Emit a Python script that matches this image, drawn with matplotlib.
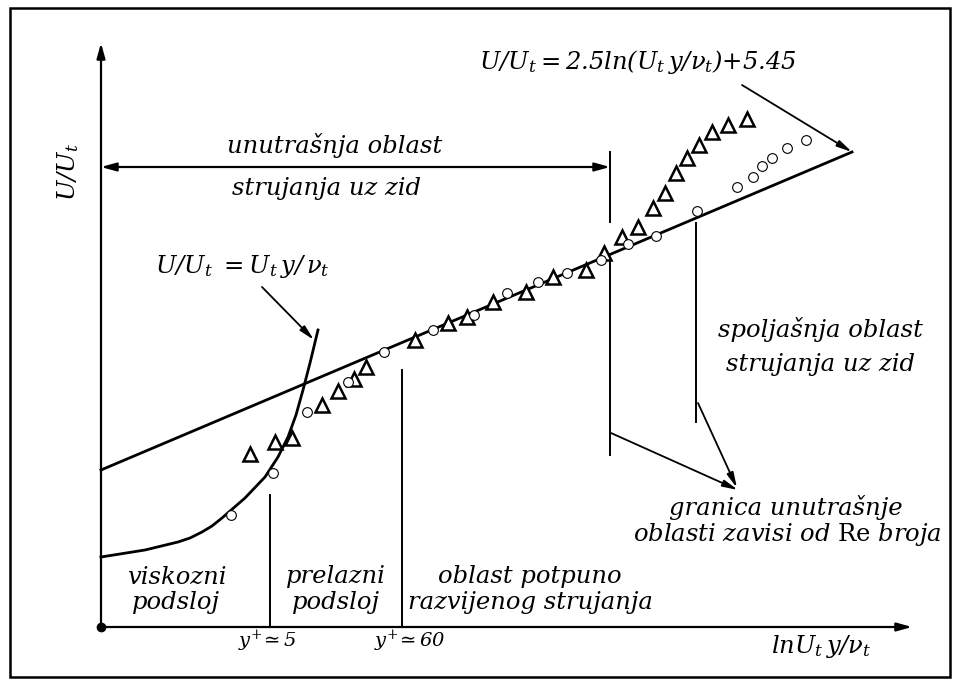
import matplotlib
matplotlib.use("Agg")
import matplotlib.pyplot as plt
from matplotlib.patches import Rectangle

plt.rcParams['font.family'] = ['DejaVu Serif']
plt.rcParams['mathtext.fontset'] = 'custom'
plt.rcParams['mathtext.it'] = 'DejaVu Serif:italic'
plt.rcParams['mathtext.rm'] = 'DejaVu Serif:italic'
plt.rcParams['mathtext.sf'] = 'DejaVu Serif'

# schematic coordinates: origin at the corner of the axes, y grows upward
# log-law line U/Ut = 2.5 ln(Ut y/vt) + 5.45
log_x = [0, 751]
log_y = [157, 475]

# viscous sublayer curve U/Ut = Ut y / vt
visc_x = [0, 44, 77, 89, 101, 111, 121, 144, 164, 177, 187, 195, 202, 209, 217]
visc_y = [70, 77, 85, 89, 95, 101, 109, 129, 150, 170, 190, 212, 237, 264, 297]

# measured points, series 1 (triangles)
tri_x = [149, 174, 191, 221, 237, 253, 265, 314, 347, 366, 392, 425, 452,
         485, 503, 521, 537, 552, 564, 575, 586, 598, 611, 627, 646]
tri_y = [173, 185, 189, 222, 236, 248, 260, 287, 304, 310, 325, 335, 350,
         357, 374, 390, 400, 419, 434, 454, 469, 482, 495, 502, 508]

# measured points, series 2 (circles)
circ_x = [130, 172, 206, 247, 283, 332, 373, 406, 437, 466, 500, 527, 555,
          596, 636, 652, 661, 671, 686, 705]
circ_y = [112, 154, 215, 245, 275, 297, 312, 334, 345, 354, 367, 383, 391,
          416, 440, 450, 461, 469, 479, 487]

# region boundaries (x position, bottom, top)
bounds = [(169, 0, 132), (301, 0, 257), (509, 172, 367), (509, 405, 475),
          (595, 205, 404)]

fig = plt.figure(figsize=(9.6, 6.86), dpi=100)
ax = fig.add_axes([0, 0, 1, 1])
ax.set_xlim(-101, 859)
ax.set_ylim(-59, 627)
ax.axis('off')

# outer frame
ax.add_patch(Rectangle((-91, -50), 940, 669, fill=False, lw=1.8, ec='black'))

# axes with arrows
head = '-|>,head_length=0.9,head_width=0.25'
ax.annotate('', xy=(0, 584), xytext=(0, 0),
            arrowprops=dict(arrowstyle=head, lw=1.6, color='black',
                            shrinkA=0, shrinkB=0))
ax.annotate('', xy=(811, 0), xytext=(0, 0),
            arrowprops=dict(arrowstyle=head, lw=1.6, color='black',
                            shrinkA=0, shrinkB=0))
ax.plot([0], [0], 'o', color='black', ms=6, zorder=5)

# inner region double arrow
ax.annotate('', xy=(509, 460), xytext=(0, 460),
            arrowprops=dict(arrowstyle='<|-|>,head_length=0.9,head_width=0.25',
                            lw=1.6, color='black', shrinkA=0, shrinkB=0))

for bx, b0, b1 in bounds:
    ax.plot([bx, bx], [b0, b1], color='black', lw=1.4)

ax.plot(log_x, log_y, color='black', lw=2.0)
ax.plot(visc_x, visc_y, color='black', lw=2.0)

ax.plot(tri_x, tri_y, '^', ms=10, mfc='white', mec='black', mew=1.8, zorder=4)
ax.plot(circ_x, circ_y, 'o', ms=7, mfc='white', mec='black', mew=0.8, zorder=4)

# annotation arrows
arr = dict(arrowstyle='-|>,head_length=0.9,head_width=0.2', lw=1.3,
           color='black', shrinkA=0, shrinkB=0)
ax.annotate('', xy=(213, 287), xytext=(161, 340), arrowprops=arr)
ax.annotate('', xy=(751, 475), xytext=(641, 542), arrowprops=arr)
ax.annotate('', xy=(637, 137), xytext=(510, 194), arrowprops=arr)
ax.annotate('', xy=(636, 139), xytext=(597, 224), arrowprops=arr)

fs = 17.5
it = dict(fontsize=fs, style='italic', ha='center', va='center')
ax.text(234, 482, 'unutrašnja oblast', **it)
ax.text(226, 439, 'strujanja uz zid', **it)
ax.text(719, 297, 'spoljašnja oblast', **it)
ax.text(719, 263, 'strujanja uz zid', **it)
ax.text(685, 120, 'granica unutrašnje', **it)
ax.text(686, 92, r'$\mathit{oblasti\ zavisi\ od}\ \mathsf{Re}\ \mathit{broja}$',
        fontsize=fs, ha='center', va='center')
ax.text(76, 50, 'viskozni', **it)
ax.text(75, 24, 'podsloj', **it)
ax.text(235, 50, 'prelazni', **it)
ax.text(235, 24, 'podsloj', **it)
ax.text(429, 50, 'oblast potpuno', **it)
ax.text(429, 24, 'razvijenog strujanja', **it)

ax.text(696, 565, r'$U/U_t = 2.5ln(U_t\,y/\nu_t){+}5.45$', fontsize=fs,
        ha='right', va='center')
ax.text(141, 360, r'$U/U_t\ {=}U_t\,y/\,\nu_t$', fontsize=fs,
        ha='center', va='center')
ax.text(-33, 455, r'$U/U_t$', fontsize=fs, rotation=90,
        ha='center', va='center')
ax.text(720, -19, r'$lnU_t\,y/\nu_t$', fontsize=fs, ha='center', va='center')
ax.text(166, -14, r'$y^{+}\!\simeq 5$', fontsize=14, ha='center', va='center')
ax.text(309, -14, r'$y^{+}\!\simeq 60$', fontsize=14, ha='center', va='center')

fig.savefig('out.png', dpi=100)
